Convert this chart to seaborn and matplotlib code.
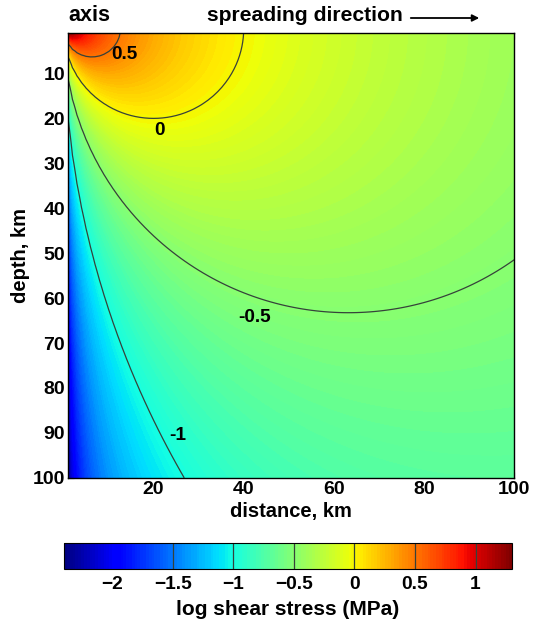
import numpy as np
import matplotlib
matplotlib.use("Agg")
import matplotlib.pyplot as plt
import seaborn as sns

sns.set_style("ticks")
plt.rcParams['font.family'] = ['Liberation Sans', 'DejaVu Sans']
plt.rcParams['font.weight'] = 'bold'
plt.rcParams['axes.labelweight'] = 'bold'
for key in ['text.color', 'axes.labelcolor', 'xtick.color', 'ytick.color', 'axes.edgecolor']:
    plt.rcParams[key] = 'black'

# model grid (km)
distance = np.arange(1, 101)
depth = np.arange(1, 101)

# contours are circles through the ridge axis; 40 MPa*km fits their radii
# (0.5 -> r~6, 0 -> r~20, -0.5 -> r~64, -1 -> r~205)
stress_scale = 40.0
contour_levels = [-1, -0.5, 0, 0.5]
cbar_lines = [-1.5, -1, -0.5, 0, 0.5, 1]
cbar_ticks = [-2, -1.5, -1, -0.5, 0, 0.5, 1]

# label positions (distance, depth)
label_text = ["0.5", "0", "-0.5", "-1"]
label_x = [13.5, 21.3, 42.4, 25.3]
label_y = [5.7, 22.6, 64.3, 90.6]

X, Z = np.meshgrid(distance, depth)
log_stress = np.log10(stress_scale * X / (X**2 + Z**2))

fig = plt.figure(figsize=(5.35, 6.23), dpi=100)
ax = fig.add_axes([0.127, 0.233, 0.834, 0.714])
cax = fig.add_axes([0.120, 0.087, 0.837, 0.042])

cmap = matplotlib.colormaps["jet"]  # seaborn won't hand out jet
vmin, vmax = log_stress.min(), log_stress.max()
fill = ax.contourf(X, Z, log_stress, levels=np.linspace(vmin, vmax, 160),
                   cmap=cmap, vmin=vmin, vmax=vmax)
ax.contour(X, Z, log_stress, levels=contour_levels, colors='#36423a',
           linewidths=0.9, negative_linestyles='solid')

for t, x, y in zip(label_text, label_x, label_y):
    ax.text(x, y, t, ha='center', va='center', fontsize=13.7, fontweight='bold')

ax.set_xlim(1, 100)
ax.set_ylim(100, 1)
ax.set_xticks([20, 40, 60, 80, 100])
ax.set_xticks(np.arange(10, 100, 10), minor=True)
ax.set_yticks(np.arange(10, 101, 10))
ax.tick_params(axis='both', which='both', direction='in', top=True, right=True,
               labelsize=14, length=4, width=0.8, pad=2)
ax.tick_params(which='minor', length=4)
for lab in ax.get_xticklabels() + ax.get_yticklabels():
    lab.set_fontweight('bold')
for s in ax.spines.values():
    s.set_linewidth(1.0)
ax.set_xlabel("distance, km", fontsize=14.5, labelpad=3)
ax.set_ylabel("depth, km", fontsize=14.5, labelpad=2)

cb = fig.colorbar(fill, cax=cax, orientation='horizontal', ticks=cbar_ticks)
cb.ax.set_xticklabels(["\u22122", "\u22121.5", "\u22121", "\u22120.5", "0", "0.5", "1"],
                      fontweight='bold')
cb.ax.tick_params(length=0, labelsize=13.8, pad=5)
for v in cbar_lines:
    cb.ax.axvline(v, color='#36423a', linewidth=0.9)
cb.outline.set_linewidth(0.8)
cb.set_label("log shear stress (MPa)", fontsize=15, fontweight='bold', labelpad=5)

fig.text(0.127, 0.975, "axis", fontsize=15.5, fontweight='bold', va='center')
fig.text(0.387, 0.975, "spreading direction", fontsize=15.2, fontweight='bold', va='center')
fig.add_artist(matplotlib.patches.FancyArrowPatch(
    (408 / 535, 1 - 18 / 623), (482 / 535, 1 - 18 / 623), transform=fig.transFigure,
    arrowstyle='-|>', mutation_scale=10, color='black', linewidth=1.3))

fig.savefig("out.png", dpi=100)
